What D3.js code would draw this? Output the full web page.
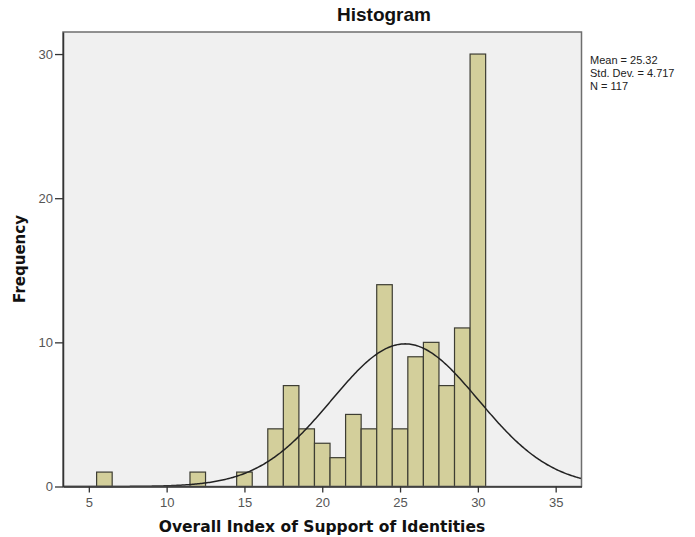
<!DOCTYPE html>
<html>
<head>
<meta charset="utf-8">
<script src="https://cdn.jsdelivr.net/npm/d3@7"></script>
<style>
  html, body { margin: 0; padding: 0; background: #ffffff; }
  svg { display: block; }
</style>
</head>
<body>
<svg id="chart" width="695" height="537"></svg>
<script>
// ---- Data ----
const binCenters = [6, 12, 15, 17, 18, 19, 20, 21, 22, 23, 24, 25, 26, 27, 28, 29, 30];
const frequencies = [1, 1, 1, 4, 7, 4, 3, 2, 5, 4, 14, 4, 9, 10, 7, 11, 30];
const binWidth = [1];
const xTicks = [5, 10, 15, 20, 25, 30, 35];
const yTicks = [0, 10, 20, 30];
const statLines = ["Mean = 25.32", "Std. Dev. = 4.717", "N = 117"];
const statMean = [25.32];
const statSD = [4.717];
const statN = [117];

const svg = d3.select("#chart");
const plot = { left: 63, right: 581.5, top: 32, bottom: 486.5 };

const x = d3.scaleLinear().domain([3.34, 36.66]).range([plot.left, plot.right]);
const y = d3.scaleLinear().domain([0, 31.53]).range([plot.bottom, plot.top]);

// plot background
svg.append("rect")
  .attr("x", plot.left).attr("y", plot.top)
  .attr("width", plot.right - plot.left).attr("height", plot.bottom - plot.top)
  .attr("fill", "#f0f0f0");

// bars
const bw = binWidth[0];
svg.append("g").selectAll("rect")
  .data(binCenters.map((c, i) => ({ c, f: frequencies[i] })))
  .join("rect")
  .attr("x", d => x(d.c - bw / 2))
  .attr("y", d => y(d.f))
  .attr("width", d => x(d.c + bw / 2) - x(d.c - bw / 2))
  .attr("height", d => y(0) - y(d.f))
  .attr("fill", "#d3cf9b")
  .attr("stroke", "#3d3d33")
  .attr("stroke-width", 1.2);

// normal curve
const mu = statMean[0], sd = statSD[0], n = statN[0];
const pts = d3.range(0, 401).map(i => {
  const xv = x.domain()[0] + (x.domain()[1] - x.domain()[0]) * i / 400;
  const z = (xv - mu) / sd;
  return [xv, n * bw * Math.exp(-0.5 * z * z) / (sd * Math.sqrt(2 * Math.PI))];
});
svg.append("path")
  .datum(pts)
  .attr("d", d3.line().x(d => x(d[0])).y(d => y(d[1])))
  .attr("fill", "none")
  .attr("stroke", "#222")
  .attr("stroke-width", 1.5);

// frame
svg.append("rect")
  .attr("x", plot.left).attr("y", plot.top)
  .attr("width", plot.right - plot.left).attr("height", plot.bottom - plot.top)
  .attr("fill", "none")
  .attr("stroke", "#6e6e6e")
  .attr("stroke-width", 1.5);

// axes
const xAxis = svg.append("g")
  .attr("transform", `translate(0,${plot.bottom})`)
  .call(d3.axisBottom(x).tickValues(xTicks).tickSize(6).tickSizeOuter(0).tickPadding(5));
const yAxis = svg.append("g")
  .attr("transform", `translate(${plot.left},0)`)
  .call(d3.axisLeft(y).tickValues(yTicks).tickSize(8).tickSizeOuter(0).tickPadding(2));

[xAxis, yAxis].forEach(g => {
  g.select(".domain").attr("stroke", "#333").attr("stroke-width", 1.5);
  g.selectAll(".tick line").attr("stroke", "#333").attr("stroke-width", 1.3);
  g.selectAll(".tick text")
    .attr("fill", "#555")
    .style("font-family", "'Liberation Sans', Arial, sans-serif")
    .style("font-size", "13px");
});

// title
svg.append("text")
  .attr("x", 384).attr("y", 21)
  .attr("text-anchor", "middle")
  .style("font-family", "'Liberation Sans', Arial, sans-serif")
  .style("font-size", "19px").style("font-weight", "bold")
  .attr("fill", "#111")
  .text("Histogram");

// x label
svg.append("text")
  .attr("x", 322).attr("y", 532)
  .attr("text-anchor", "middle")
  .style("font-family", "'DejaVu Sans', Verdana, sans-serif")
  .style("font-size", "15.5px").style("font-weight", "bold")
  .attr("fill", "#111")
  .text("Overall Index of Support of Identities");

// y label
svg.append("text")
  .attr("transform", "translate(25,259) rotate(-90)")
  .attr("text-anchor", "middle")
  .style("font-family", "'DejaVu Sans', Verdana, sans-serif")
  .style("font-size", "15px").style("font-weight", "bold")
  .attr("fill", "#111")
  .text("Frequency");

// stats
svg.append("g").selectAll("text")
  .data(statLines)
  .join("text")
  .attr("x", 590)
  .attr("y", (d, i) => 64 + i * 13.2)
  .style("font-family", "'Liberation Sans', Arial, sans-serif")
  .style("font-size", "11px")
  .attr("fill", "#222")
  .text(d => d);
</script>
</body>
</html>
